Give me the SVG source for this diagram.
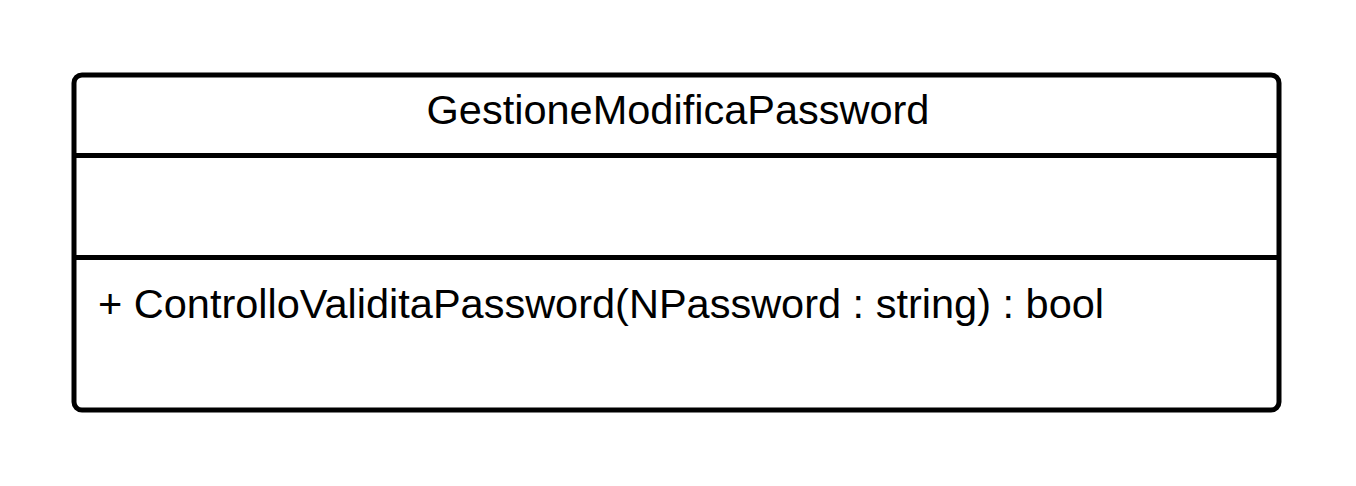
<svg xmlns="http://www.w3.org/2000/svg" width="1356" height="486" viewBox="0 0 1356 486">
<style>
.box{fill:#fff;stroke:#000;stroke-width:5}
.sep{stroke:#000;stroke-width:5}
.t{font-family:"Liberation Sans",Arial,sans-serif;font-size:41.5px;fill:#000}
</style>
<rect width="1356" height="486" fill="#fff"/>
<g id="GestioneModificaPassword">
<rect class="box" x="74" y="75" width="1205" height="335" rx="8"/>
<line class="sep" x1="74" y1="155.5" x2="1279" y2="155.5"/>
<line class="sep" x1="74" y1="257.5" x2="1279" y2="257.5"/>
<text class="t" x="678" y="124" text-anchor="middle">GestioneModificaPassword</text>
<text class="t" x="98" y="318">+ ControlloValiditaPassword(NPassword : string) : bool</text>
</g>
<g id="connectors"/>
</svg>
